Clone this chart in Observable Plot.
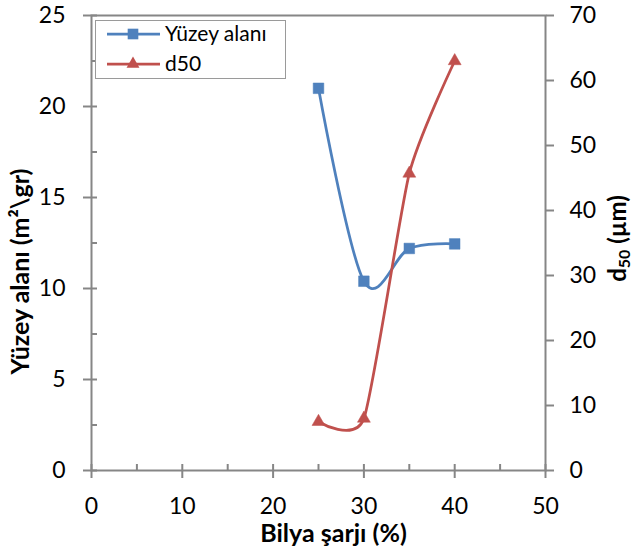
<!DOCTYPE html>
<html>
<head>
<meta charset="utf-8">
<script src="https://cdn.jsdelivr.net/npm/d3@7"></script>
<script src="https://cdn.jsdelivr.net/npm/@observablehq/plot@0.6"></script>
<style>
  html, body { margin: 0; padding: 0; background: #fff; }
  #chart { position: relative; width: 633px; height: 551px; }
</style>
</head>
<body>
<div id="chart"></div>
<script>
// ---- data ----
const bilya = [25, 30, 35, 40];
const yuzeyAlani = [21.0, 10.4, 12.2, 12.45];
const d50Values = [7.5, 8.0, 45.7, 63.0];

const xTicks = [0, 10, 20, 30, 40, 50];
const xInnerTicks = [0, 5, 10, 15, 20, 25, 30, 35, 40, 45, 50];
const leftTicks = [0, 5, 10, 15, 20, 25];
const leftInnerTicks = [0, 2.5, 5, 7.5, 10, 12.5, 15, 17.5, 20, 22.5, 25];
const rightTicks = [0, 10, 20, 30, 40, 50, 60, 70];

const seriesNames = ["Yüzey alanı", "d50"];
const xLabel = "Bilya şarjı (%)";
const yLabel = "Yüzey alanı (m²\\gr)";
const y2Label = "d50 (µm)";

const leftMax = 25, rightMax = 70;
const toLeft = v => v * leftMax / rightMax;

const blue = "#4F81BD", red = "#C0504D", axisGray = "#868686";
const font = "Lato";

const yuzeyData = bilya.map((x, i) => ({x, y: yuzeyAlani[i]}));
const d50Data = bilya.map((x, i) => ({x, y: toLeft(d50Values[i])}));

const chart = Plot.plot({
  width: 633,
  height: 551,
  marginLeft: 91,
  marginRight: 88,
  marginTop: 15,
  marginBottom: 81,
  style: {fontFamily: font, background: "#fff", color: "#000"},
  x: {domain: [0, 50]},
  y: {domain: [0, leftMax]},
  marks: [
    Plot.frame({stroke: axisGray, strokeWidth: 2}),
    // bottom axis
    Plot.axisX(xTicks, {anchor: "bottom", tickSize: 8, tickPadding: 19, fontSize: 23, stroke: axisGray, strokeWidth: 2, fill: "#000", label: null}),
    Plot.axisX(xInnerTicks, {anchor: "bottom", tickSize: 6, dy: -6, tickFormat: () => "", stroke: axisGray, strokeWidth: 2, label: null}),
    // left axis
    Plot.axisY(leftTicks, {anchor: "left", tickSize: 8, tickPadding: 18, fontSize: 23, stroke: axisGray, strokeWidth: 2, fill: "#000", label: null}),
    Plot.axisY(leftInnerTicks, {anchor: "left", tickSize: 6, dx: 6, tickFormat: () => "", stroke: axisGray, strokeWidth: 2, label: null}),
    // right axis (d50)
    Plot.axisY(rightTicks.map(toLeft), {anchor: "right", tickSize: 8, tickPadding: 16, fontSize: 23, stroke: axisGray, strokeWidth: 2, fill: "#000", label: null,
      tickFormat: d => String(Math.round(d * rightMax / leftMax))}),
    // series
    Plot.line(yuzeyData, {x: "x", y: "y", stroke: blue, strokeWidth: 2.75, curve: "cardinal", tension: 0}),
    Plot.line(d50Data, {x: "x", y: "y", stroke: red, strokeWidth: 2.75, curve: "cardinal", tension: 0.4}),
    Plot.dot(yuzeyData, {x: "x", y: "y", symbol: "square", r: 6, fill: blue, stroke: blue, strokeWidth: 0.5}),
    Plot.dot(d50Data, {x: "x", y: "y", symbol: "triangle", r: 4.8, fill: red, stroke: red, strokeWidth: 0.5}),
    // axis titles
    Plot.text([xLabel], {frameAnchor: "bottom", dx: 15, dy: 63, textAnchor: "middle", lineAnchor: "middle", fontSize: 25, fontWeight: "bold", fill: "#000"}),
    Plot.text([yLabel], {frameAnchor: "left", dx: -71, dy: 28.5, rotate: -90, textAnchor: "middle", lineAnchor: "middle", fontSize: 25, fontWeight: "bold", fill: "#000"}),
    Plot.text([y2Label], {frameAnchor: "right", dx: 73, dy: -4.5, rotate: -90, textAnchor: "middle", lineAnchor: "middle", fontSize: 24, fontWeight: "bold", fill: "#000"})
  ]
});

// subscript "50" in the right title
const svg = d3.select(chart);
svg.selectAll("text").each(function() {
  const t = d3.select(this);
  if (t.text() === y2Label) {
    t.text("");
    t.append("tspan").text("d");
    t.append("tspan").attr("font-size", 16).attr("baseline-shift", "-25%").text("50");
    t.append("tspan").text(" (µm)");
  }
});

// legend (inside plot area, top-left)
const lg = svg.append("g").attr("font-family", font).attr("font-size", 21).attr("text-anchor", "start");
lg.append("rect").attr("x", 95.5).attr("y", 20.5).attr("width", 190).attr("height", 58)
  .attr("fill", "#fff").attr("stroke", "#9a9a9a").attr("stroke-width", 1);
const items = [
  {name: seriesNames[0], color: blue, sym: d3.symbolSquare, size: Math.PI * 36},
  {name: seriesNames[1], color: red, sym: d3.symbolTriangle, size: Math.PI * 4.8 * 4.8}
];
items.forEach((it, i) => {
  const cy = 34 + i * 30;
  lg.append("line").attr("x1", 107).attr("x2", 160).attr("y1", cy).attr("y2", cy)
    .attr("stroke", it.color).attr("stroke-width", 2.75);
  lg.append("path").attr("d", d3.symbol(it.sym, it.size)()).attr("transform", `translate(133,${cy})`)
    .attr("fill", it.color);
  lg.append("text").attr("x", 165).attr("y", cy).attr("dy", "0.35em").attr("fill", "#000").text(it.name);
});

document.getElementById("chart").appendChild(chart);
</script>
</body>
</html>
